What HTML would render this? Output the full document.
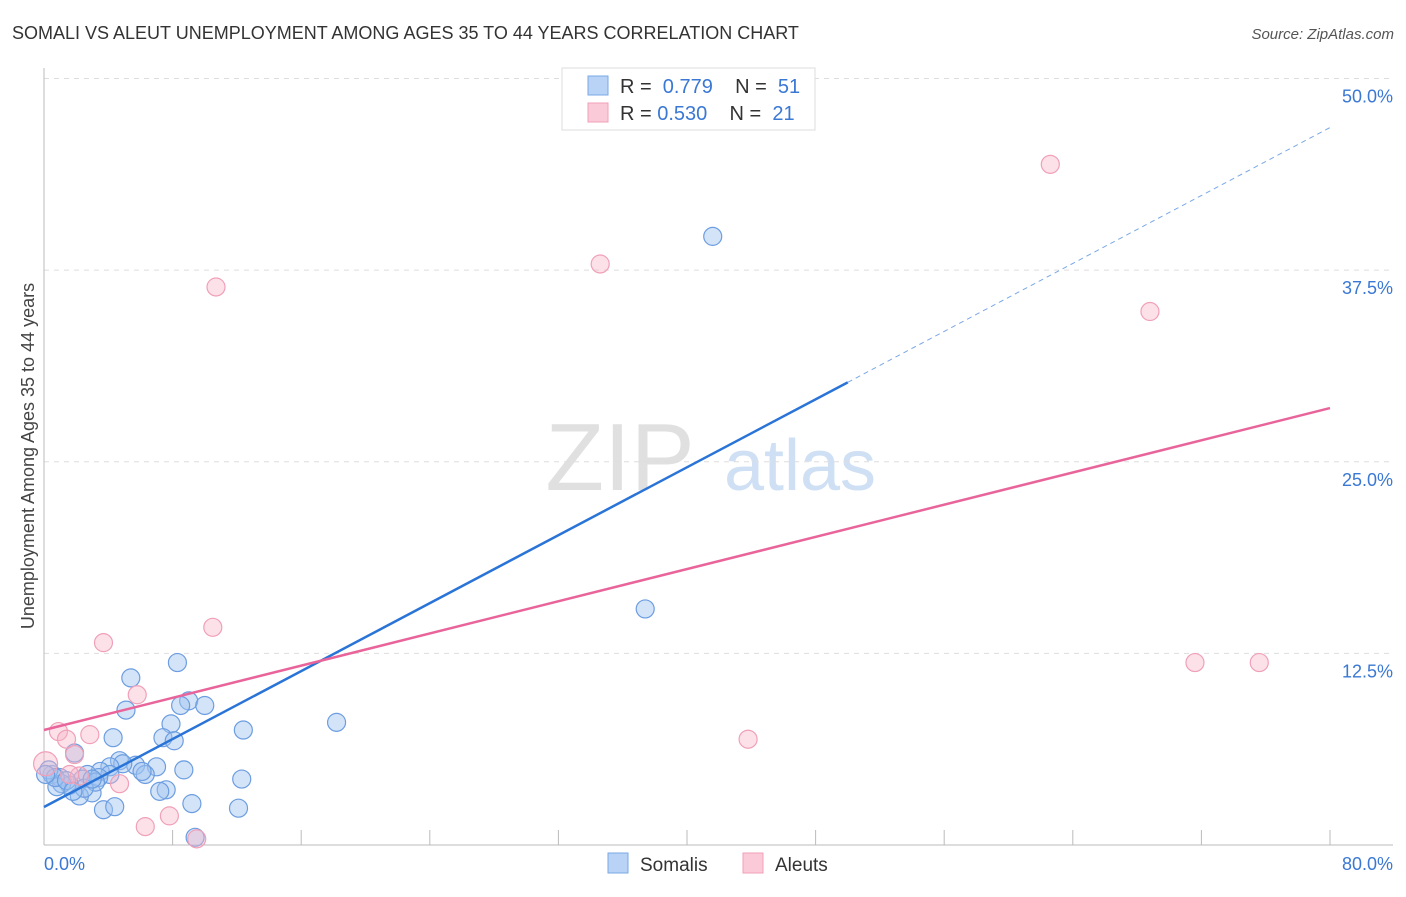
<!DOCTYPE html>
<html><head><meta charset="utf-8"><style>
body{margin:0;background:#fff;font-family:"Liberation Sans",sans-serif;}
svg text{font-family:"Liberation Sans",sans-serif;}
</style></head><body>
<svg id="c" width="1406" height="892">
<text x="12" y="39" font-size="18" fill="#333">SOMALI VS ALEUT UNEMPLOYMENT AMONG AGES 35 TO 44 YEARS CORRELATION CHART</text>
<text x="1394" y="39" font-size="15" fill="#555" text-anchor="end" font-style="italic">Source: ZipAtlas.com</text>
<text x="620" y="490" font-size="96" fill="#e0e0e0" font-family="Liberation Serif" text-anchor="middle">ZIP</text>
<text x="800" y="490" font-size="72" fill="#cfe0f5" text-anchor="middle">atlas</text>
<g id="grid"></g><g id="axes"></g><g id="marks"></g><g id="lines"></g>
<text transform="translate(34,456) rotate(-90)" font-size="18" fill="#444" text-anchor="middle">Unemployment Among Ages 35 to 44 years</text>
<text x="44" y="870" font-size="18" fill="#3a78d4">0.0%</text>
<text x="1393" y="870" font-size="18" fill="#3a78d4" text-anchor="end">80.0%</text>
<g>
<rect x="562" y="68" width="253" height="62" fill="#fff" stroke="#ddd"/>
<rect x="588" y="76" width="20" height="19" fill="#b8d3f5" stroke="#7aa8e6"/>
<text x="620" y="93" font-size="20" fill="#333" xml:space="preserve">R =  <tspan fill="#3a78d4">0.779</tspan>    N =  <tspan fill="#3a78d4">51</tspan></text>
<rect x="588" y="103" width="20" height="19" fill="#fbcad8" stroke="#f0a0b8"/>
<text x="620" y="120" font-size="20" fill="#333" xml:space="preserve">R = <tspan fill="#3a78d4">0.530</tspan>    N =  <tspan fill="#3a78d4">21</tspan></text>
</g>
<g>
<rect x="608" y="853" width="20" height="20" fill="#b8d3f5" stroke="#7aa8e6"/>
<text x="640" y="871" font-size="19" fill="#333">Somalis</text>
<rect x="743" y="853" width="20" height="20" fill="#fbcad8" stroke="#f0a0b8"/>
<text x="775" y="871" font-size="19" fill="#333">Aleuts</text>
</g>
</svg>
<script>
const yTicks=[12.5,25,37.5,50];
const yTickLabels=["12.5%","25.0%","37.5%","50.0%"];
const somaliX=[8.3,5.4,9.0,5.1,8.5,10.0,7.9,12.4,4.3,7.4,8.1,18.2,37.4,41.6,1.9,4.7,5.7,4.9,7.0,8.7,6.3,6.1,4.1,3.5,2.7,2.4,1.0,0.5,0.3,12.3,7.6,7.2,2.99,2.2,1.6,1.1,0.8,3.7,4.4,9.2,12.1,9.4,4.1,3.4,3.2,0.7,1.4,2.5,1.8,0.1,3.0];
const somaliY=[11.9,10.9,9.4,8.8,9.1,9.1,7.9,7.5,7.0,7.0,6.8,8.0,15.4,39.7,6.0,5.5,5.2,5.3,5.1,4.9,4.6,4.8,5.1,4.8,4.6,4.3,4.4,4.6,4.9,4.3,3.6,3.5,3.4,3.2,3.9,4.0,3.8,2.3,2.5,2.7,2.4,0.5,4.6,4.4,4.1,4.4,4.2,3.7,3.5,4.6,4.3];
const aleutX=[10.7,34.6,62.6,68.8,71.6,75.6,43.8,10.5,3.7,5.8,0.9,1.4,2.85,1.9,2.2,4.7,6.3,7.8,9.5,0.1,1.6];
const aleutY=[36.4,37.9,44.4,34.8,11.9,11.9,6.9,14.2,13.2,9.8,7.4,6.9,7.2,5.9,4.5,4.0,1.2,1.9,0.4,5.3,4.6];
const blueFit=[2.48,0.554], pinkFit=[7.5,0.2625];
const X=v=>44+v*16.075, Y=v=>845-v*15.33;
const NS="http://www.w3.org/2000/svg";
function mk(t,a,p){const e=document.createElementNS(NS,t);for(const k in a)e.setAttribute(k,a[k]);document.getElementById(p).appendChild(e);return e;}
yTicks.forEach((t,i)=>{
 const g=mk('line',{x1:44,x2:1393,y1:Y(t),y2:Y(t),stroke:'#ddd','stroke-dasharray':'5,5'},'grid');
 
 
 const l=mk('text',{x:1393,y:Y(t)+24,'font-size':18,fill:'#3a78d4','text-anchor':'end'},'grid');
 l.textContent=yTickLabels[i];
 
 
});
const ya=mk('line',{x1:44,x2:44,y1:68,y2:845,stroke:'#bbb'},'axes');


const xa=mk('line',{x1:44,x2:1393,y1:845,y2:845,stroke:'#bbb'},'axes');


for(let i=0;i<=10;i++){
 const t=mk('line',{x1:X(i*8),x2:X(i*8),y1:830,y2:845,stroke:'#bbb'},'axes');
 
 
}
somaliX.forEach((v,i)=>{
 const c=mk('circle',{cx:X(v),cy:Y(somaliY[i]),r:9,fill:'rgba(160,196,240,0.45)',stroke:'#6c9de0','stroke-width':1.2},'marks');
 
 
});
aleutX.forEach((v,i)=>{
 const c=mk('circle',{cx:X(v),cy:Y(aleutY[i]),r:i==19?12:9,fill:'rgba(248,180,200,0.4)',stroke:'#f0a0b8','stroke-width':1.2},'marks');
 
 
});
const bl=mk('line',{x1:X(0),y1:Y(blueFit[0]),x2:X(50),y2:Y(blueFit[0]+blueFit[1]*50),stroke:'#2a74d8','stroke-width':2.5},'lines');


const bd=mk('line',{x1:X(50),y1:Y(blueFit[0]+blueFit[1]*50),x2:X(80),y2:Y(blueFit[0]+blueFit[1]*80),stroke:'#7aa8e6','stroke-width':1,'stroke-dasharray':'5,4'},'lines');


const pl=mk('line',{x1:X(0),y1:Y(pinkFit[0]),x2:X(80),y2:Y(pinkFit[0]+pinkFit[1]*80),stroke:'#e8649a','stroke-width':2.5},'lines');


</script>
</body></html>
